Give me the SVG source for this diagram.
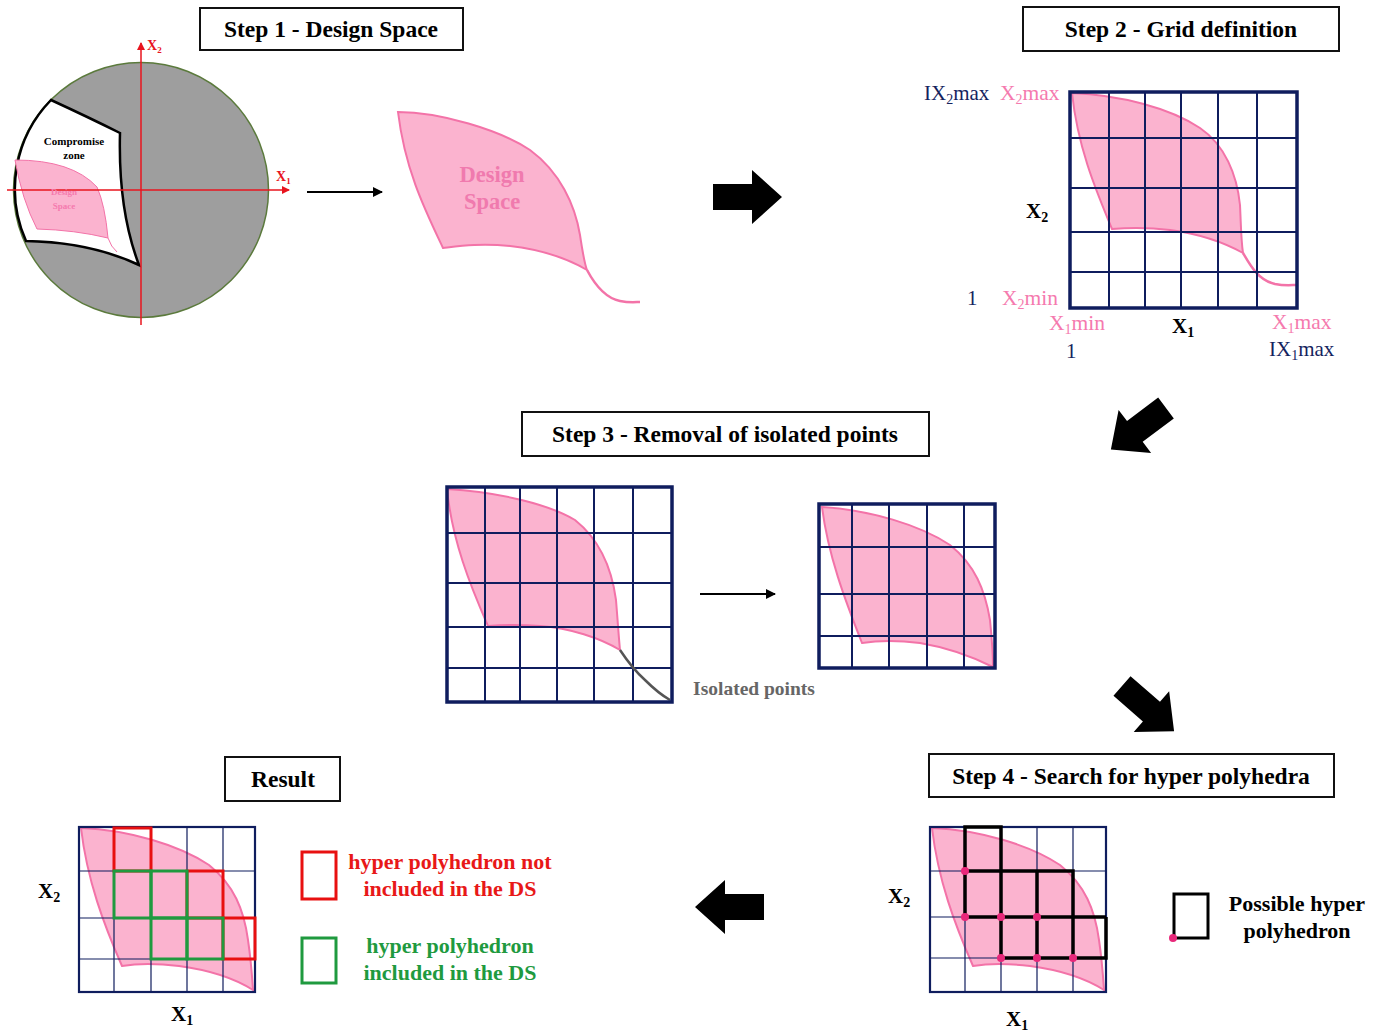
<svg xmlns="http://www.w3.org/2000/svg" width="1384" height="1032" viewBox="0 0 1384 1032">
<defs>
<style>
.t{font-family:"Liberation Serif","Times New Roman",serif;font-weight:bold}
.r{font-family:"Liberation Serif","Times New Roman",serif}
.box{fill:#fff;stroke:#111;stroke-width:2}
.ttl{font-size:23.5px}
.pink{fill:#fbb3cf;stroke:#f373a8;stroke-width:2}
.tail{fill:none;stroke:#f373a8;stroke-width:2.5}
.grid{fill:none;stroke:#0f1d5e;stroke-width:2}
.thin{fill:none;stroke:#0f1d5e;stroke-width:1.2}
.frame{fill:none;stroke:#0f1d5e;stroke-width:3.5}
.frame2{fill:none;stroke:#0f1d5e;stroke-width:2.2}
.navy{fill:#14235e}
.pk{fill:#f57aae}
.big{fill:#000}
.dot{fill:#e8287a}
</style>
<marker id="ah" markerWidth="10" markerHeight="10" refX="9" refY="5" orient="auto" markerUnits="userSpaceOnUse">
<path d="M0,0 L10,5 L0,10 Z" fill="#000"/>
</marker>
<marker id="ahr" markerWidth="8" markerHeight="8" refX="7" refY="4" orient="auto" markerUnits="userSpaceOnUse">
<path d="M0,0 L8,4 L0,8 Z" fill="#e8141e"/>
</marker>
<path id="blk" d="M0,-13 L39,-13 L39,-27 L69,0 L39,27 L39,13 L0,13 Z"/>
</defs>
<rect width="1384" height="1032" fill="#fff"/>

<!-- Titles -->
<g id="title1"><rect class="box" x="200" y="8" width="263" height="42"/><text class="t ttl" x="331" y="37" text-anchor="middle">Step 1 - Design Space</text></g>
<g id="title2"><rect class="box" x="1023" y="7" width="316" height="44"/><text class="t ttl" x="1181" y="37" text-anchor="middle">Step 2 - Grid definition</text></g>
<g id="title3"><rect class="box" x="522" y="412" width="407" height="44"/><text class="t ttl" x="725" y="442" text-anchor="middle">Step 3 - Removal of isolated points</text></g>
<g id="title4"><rect class="box" x="929" y="754" width="405" height="43"/><text class="t ttl" x="1131" y="784" text-anchor="middle">Step 4 - Search for hyper polyhedra</text></g>
<g id="titleR"><rect class="box" x="225" y="757" width="115" height="44"/><text class="t ttl" x="283" y="787" text-anchor="middle">Result</text></g>

<!-- Step 1 circle -->
<g id="step1-circle">
<circle cx="141" cy="190" r="127.5" fill="#9e9e9e" stroke="#5b7a3c" stroke-width="1.5"/>
<path d="M51,100 Q90,118 120,133 Q118,210 139,265 Q90,242 26,241 A127.5,127.5 0 0 1 51,100 Z" fill="#fff" stroke="#000" stroke-width="2.5"/>
<path d="M15,160 Q72,160 97,187 Q105,205 108,238 Q75,230 37,229 Q22,200 15,160 Z" fill="#fbb3cf" stroke="#f373a8" stroke-width="1"/>
<path d="M108,238 Q111,247 117,252" fill="none" stroke="#f373a8" stroke-width="1"/>
<line x1="141" y1="325" x2="141" y2="43" stroke="#e8141e" stroke-width="1.5" marker-end="url(#ahr)"/>
<line x1="7" y1="190" x2="289" y2="190" stroke="#e8141e" stroke-width="1.5" marker-end="url(#ahr)"/>
<text class="t" x="147" y="50" font-size="14" fill="#e8141e">X<tspan font-size="9" dy="3">2</tspan></text>
<text class="t" x="276" y="181" font-size="14" fill="#e8141e">X<tspan font-size="9" dy="3">1</tspan></text>
<text class="t" x="74" y="145" font-size="11" text-anchor="middle">Compromise</text>
<text class="t" x="74" y="159" font-size="11" text-anchor="middle">zone</text>
<text class="t pk" x="64" y="195" font-size="9" text-anchor="middle">Design</text>
<text class="t pk" x="64" y="209" font-size="9" text-anchor="middle">Space</text>
</g>

<!-- Step 1 design space -->
<g id="step1-ds">
<path class="pink" d="M398,112 C440,112 500,130 530,150 C560,172 575,205 580,235 C583,255 585,265 587,270 C570,260 545,250 510,246 C480,243 460,246 443,248 C425,210 405,170 398,112 Z"/>
<path class="tail" d="M587,270 C595,285 605,298 620,301 C630,303 636,302 640,302"/>
<text class="t" x="492" y="182" font-size="22.5" text-anchor="middle" fill="#f07aae">Design</text>
<text class="t" x="492" y="209" font-size="22.5" text-anchor="middle" fill="#f07aae">Space</text>
</g>

<!-- Step 2 grid -->
<g id="step2-grid">
<path class="pink" d="M1072,93 C1120,95 1170,108 1200,128 C1225,145 1237,175 1240,205 C1241,225 1241,240 1243,253 C1225,243 1200,234 1170,230 C1145,227 1125,228 1112,229 C1098,195 1078,150 1072,93 Z"/>
<path class="tail" d="M1243,253 C1250,265 1258,280 1275,284 C1285,286 1292,285 1296,285"/>
<path class="grid" d="M1109,92V308M1145,92V308M1181,92V308M1218,92V308M1257,92V308M1070,138H1297M1070,188H1297M1070,232H1297M1070,272H1297"/>
<rect class="frame" x="1070" y="92" width="227" height="216"/>
<text class="r navy" x="924" y="100" font-size="21">IX<tspan font-size="14" dy="4">2</tspan><tspan dy="-4">max</tspan></text>
<text class="r pk" x="1000" y="100" font-size="21.5">X<tspan font-size="14" dy="4">2</tspan><tspan dy="-4">max</tspan></text>
<text class="t" x="1026" y="218" font-size="21">X<tspan font-size="14" dy="4">2</tspan></text>
<text class="r navy" x="967" y="305" font-size="21">1</text>
<text class="r pk" x="1002" y="305" font-size="21.5">X<tspan font-size="14" dy="4">2</tspan><tspan dy="-4">min</tspan></text>
<text class="r pk" x="1049" y="330" font-size="21.5">X<tspan font-size="14" dy="4">1</tspan><tspan dy="-4">min</tspan></text>
<text class="t" x="1172" y="333" font-size="21">X<tspan font-size="14" dy="4">1</tspan></text>
<text class="r pk" x="1272" y="329" font-size="21.5">X<tspan font-size="14" dy="4">1</tspan><tspan dy="-4">max</tspan></text>
<text class="r navy" x="1066" y="358" font-size="21">1</text>
<text class="r navy" x="1269" y="356" font-size="21">IX<tspan font-size="14" dy="4">1</tspan><tspan dy="-4">max</tspan></text>
</g>

<!-- Step 3 big grid -->
<g id="step3-grid">
<path class="pink" d="M447,489 C500,492 550,505 575,520 C600,540 612,570 616,600 C618,625 619,640 620,650 C600,638 570,628 540,626 C515,624 500,625 488,626 C470,585 452,540 447,489 Z"/>
<path class="grid" d="M485,487V702M520,487V702M557,487V702M594,487V702M633,487V702M447,533H672M447,583H672M447,627H672M447,668H672"/>
<path d="M620,650 C628,662 636,672 645,680 C655,690 663,696 670,700" fill="none" stroke="#555" stroke-width="2.5"/>
<rect class="frame" x="447" y="487" width="225" height="215"/>
<text class="t" x="754" y="695" font-size="19.5" text-anchor="middle" fill="#666">Isolated points</text>
</g>

<!-- Step 3 small grid -->
<g id="step3-clean">
<path class="pink" d="M822,507 C870,510 920,525 950,545 C975,565 985,590 990,620 C992,640 993,655 993,667 C975,658 950,648 920,643 C895,640 875,641 862,643 C845,600 828,555 822,507 Z"/>
<path class="grid" d="M852,504V668M889,504V668M927,504V668M964,504V668M819,547H995M819,594H995M819,636H995"/>
<rect class="frame" x="819" y="504" width="176" height="164"/>
</g>

<!-- Step 4 -->
<g id="step4-grid">
<path class="pink" d="M932,828 C980,830 1030,845 1060,865 C1085,885 1095,910 1099,940 C1102,960 1103,975 1104,990 C1085,978 1060,970 1030,966 C1005,963 985,964 973,966 C955,925 938,880 932,828 Z"/>
<path class="thin" d="M965,827V992M1001,827V992M1037,827V992M1073,827V992M930,871H1106M930,917H1106M930,958H1106"/>
<rect class="frame2" x="930" y="827" width="176" height="165"/>
<path d="M965,871V827H1001V871M965,917V871H1073V917M1001,871V917M1037,871V917M965,917H1106M1001,917V958H1106V917M1037,917V958M1073,917V958" fill="none" stroke="#000" stroke-width="3.5" stroke-linejoin="miter"/>
<circle class="dot" cx="965" cy="871" r="4"/>
<circle class="dot" cx="965" cy="917" r="4"/>
<circle class="dot" cx="1001" cy="917" r="4"/>
<circle class="dot" cx="1037" cy="917" r="4"/>
<circle class="dot" cx="1001" cy="958" r="4"/>
<circle class="dot" cx="1037" cy="958" r="4"/>
<circle class="dot" cx="1073" cy="958" r="4"/>
<text class="t" x="888" y="903" font-size="21">X<tspan font-size="14" dy="4">2</tspan></text>
<text class="t" x="1006" y="1026" font-size="21">X<tspan font-size="14" dy="4">1</tspan></text>
</g>

<g id="legend4">
<rect x="1174" y="894" width="34" height="44" fill="none" stroke="#000" stroke-width="3"/>
<circle class="dot" cx="1173" cy="938" r="4"/>
<text class="t" x="1297" y="911" font-size="22" text-anchor="middle">Possible hyper</text>
<text class="t" x="1297" y="938" font-size="22" text-anchor="middle">polyhedron</text>
</g>

<!-- Result -->
<g id="result-grid">
<path class="pink" transform="translate(-851,0)" d="M932,828 C980,830 1030,845 1060,865 C1085,885 1095,910 1099,940 C1102,960 1103,975 1104,990 C1085,978 1060,970 1030,966 C1005,963 985,964 973,966 C955,925 938,880 932,828 Z"/>
<path class="thin" d="M114,827V992M151,827V992M187,827V992M223,827V992M79,871H255M79,918H255M79,959H255"/>
<rect class="frame2" x="79" y="827" width="176" height="165"/>
<g fill="none" stroke="#e81010" stroke-width="3">
<rect x="114" y="828" width="37" height="43"/>
<rect x="187" y="871" width="36" height="47"/>
<rect x="223" y="918" width="32" height="41"/>
</g>
<g fill="none" stroke="#1f9a3f" stroke-width="3">
<rect x="114" y="871" width="37" height="47"/>
<rect x="151" y="871" width="36" height="47"/>
<rect x="151" y="918" width="36" height="41"/>
<rect x="187" y="918" width="36" height="41"/>
</g>
<text class="t" x="38" y="898" font-size="21">X<tspan font-size="14" dy="4">2</tspan></text>
<text class="t" x="171" y="1021" font-size="21">X<tspan font-size="14" dy="4">1</tspan></text>
</g>

<g id="legendR">
<rect x="302" y="852" width="34" height="47" fill="none" stroke="#e81010" stroke-width="3"/>
<text class="t" x="450" y="869" font-size="22" text-anchor="middle" fill="#e81818">hyper polyhedron not</text>
<text class="t" x="450" y="896" font-size="22" text-anchor="middle" fill="#e81818">included in the DS</text>
<rect x="302" y="938" width="34" height="45" fill="none" stroke="#1f9a3f" stroke-width="3"/>
<text class="t" x="450" y="953" font-size="22" text-anchor="middle" fill="#1f9a3f">hyper polyhedron</text>
<text class="t" x="450" y="980" font-size="22" text-anchor="middle" fill="#1f9a3f">included in the DS</text>
</g>

<!-- Connectors -->
<g id="connectors">
<line x1="307" y1="192" x2="382" y2="192" stroke="#000" stroke-width="2" marker-end="url(#ah)"/>
<line x1="700" y1="594" x2="775" y2="594" stroke="#000" stroke-width="2" marker-end="url(#ah)"/>
<use href="#blk" class="big" transform="translate(713,197)"/>
<use href="#blk" class="big" transform="translate(1166,408) rotate(143)"/>
<use href="#blk" class="big" transform="translate(1122,686) rotate(41)"/>
<use href="#blk" class="big" transform="translate(764,907) rotate(180)"/>
</g>
</svg>
